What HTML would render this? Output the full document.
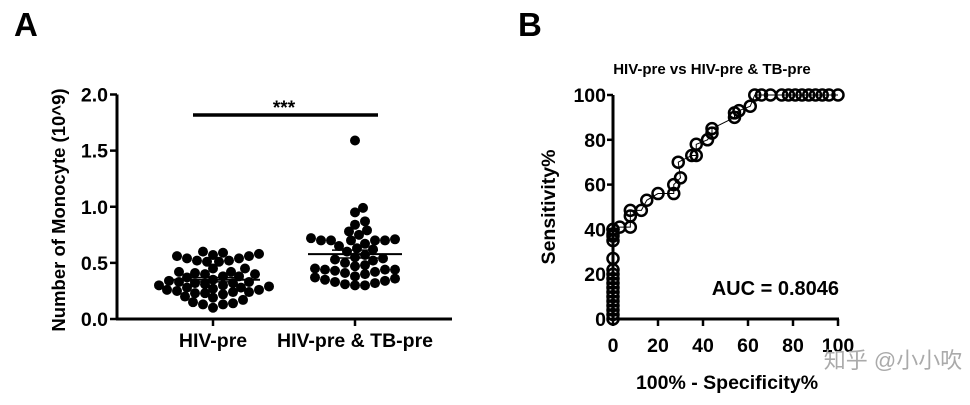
<!DOCTYPE html>
<html><head><meta charset="utf-8">
<style>
html,body{margin:0;padding:0;background:#fff;}
svg{display:block;font-family:"Liberation Sans","Noto Sans CJK SC",sans-serif;font-weight:bold;}
</style></head>
<body>
<svg id="c" width="970" height="405" viewBox="0 0 970 405">
<text x="14" y="36" font-size="33">A</text>
<text x="518" y="36" font-size="33">B</text>
<g id="pa"></g>
<g id="pb"></g>
<text x="893" y="368" font-size="22" fill="#aaa" font-weight="normal" text-anchor="middle">知乎 @小小吹</text>
</svg>
<script>
const groupLabels=["HIV-pre","HIV-pre & TB-pre"];
const group1=[0.59,0.57,0.56,0.54,0.52,0.51,0.51,0.52,0.54,0.56,0.58,0.60,
0.45,0.42,0.40,0.41,0.38,0.40,0.37,0.38,0.42,0.45,
0.35,0.34,0.33,0.32,0.31,0.30,0.29,0.28,0.27,0.26,0.25,0.24,0.23,0.23,0.24,0.26,0.28,0.30,0.32,0.33,
0.22,0.19,0.15,0.13,0.10,0.13,0.14,0.17,0.20];
const group2=[1.59,0.99,0.95,0.87,0.84,0.79,0.78,0.75,
0.72,0.71,0.70,0.70,0.70,0.70,0.70,0.67,0.65,0.63,0.62,0.60,0.57,0.55,0.54,0.53,0.52,0.50,
0.48,0.47,0.45,0.44,0.44,0.44,0.43,0.42,0.40,0.41,0.38,0.37,0.36,0.35,0.33,0.32,0.31,0.30,0.30,0.34];
const yTicksA=[0,0.5,1.0,1.5,2.0];
const rocX=[0,0,0,0,0,0,0,0,0,0,0,0,0,0,0,0,0,0,3,7.7,7.7,7.7,12.6,15,20,27,27,30,29,35,37,37,42,44,44,54,54,56,61,63,66,70,75,78,81,84,87,90,93,96,100];
const rocY=[0,2,4,6,8,10,12,14,16,18,20,22,27,35,37,38,40,40,41,41,46,48.5,48.5,53,56,56,60,63,70,73,73,78,80,83,85,90,92,93,95,100,100,100,100,100,100,100,100,100,100,100,100];
const xTicksB=[0,20,40,60,80,100];
const yTicksB=[0,20,40,60,80,100];

const NS="http://www.w3.org/2000/svg";
function mk(p,t,a,txt){const e=document.createElementNS(NS,t);for(const k in a)e.setAttribute(k,a[k]);if(txt!=null)e.textContent=txt;p.appendChild(e);return e;}
const pa=document.getElementById('pa');
const ax0=117,ay0=319,ay1=94.5;
const yA=v=>ay0-(v/2)*(ay0-ay1);
const cx=[213,355];
let e;
e=mk(pa,'line',{x1:ax0,y1:ay1,x2:ax0,y2:ay0+1,stroke:'#000','stroke-width':3});

e=mk(pa,'line',{x1:ax0-1,y1:ay0,x2:452,y2:ay0,stroke:'#000','stroke-width':3});

yTicksA.forEach(v=>{
 e=mk(pa,'line',{x1:ax0-7,y1:yA(v),x2:ax0,y2:yA(v),stroke:'#000','stroke-width':2.5});
 
 e=mk(pa,'text',{x:ax0-9,y:yA(v)+7,'font-size':19.5,'text-anchor':'end'},v.toFixed(1));
 
});
groupLabels.forEach((l,i)=>{
 e=mk(pa,'line',{x1:cx[i],y1:ay0,x2:cx[i],y2:ay0+7,stroke:'#000','stroke-width':2.5});
 
 e=mk(pa,'text',{x:cx[i],y:347,'font-size':19.5,'text-anchor':'middle'},l);
 
});
e=mk(pa,'text',{x:0,y:0,'font-size':18.5,'text-anchor':'middle',transform:'translate(65,210) rotate(-90)'},'Number of Monocyte (10^9)');

e=mk(pa,'line',{x1:193,y1:115,x2:378,y2:115,stroke:'#000','stroke-width':3.5});

e=mk(pa,'text',{x:284,y:114,'font-size':19,'text-anchor':'middle'},'***');

const R=5,D=8.9;
[group1,group2].forEach((g,gi)=>{
 const placed=[];
 const sorted=g.slice().sort((a,b)=>a-b);
 sorted.forEach(v=>{
  const y=yA(v);let best=null;
  for(let k=0;k<60&&best===null;k++){
   for(const s of (k===0?[0]:[k*2,-k*2])){
    const x=cx[gi]+s;
    if(placed.every(p=>(p[0]-x)**2+(p[1]-y)**2>=D*D)){best=x;break;}
   }
  }
  placed.push([best,y]);
  e=mk(pa,'circle',{cx:best,cy:y,r:R,fill:'#000'});
  
 });
 const m=g.reduce((a,b)=>a+b,0)/g.length;
 const sd=Math.sqrt(g.reduce((a,b)=>a+(b-m)**2,0)/(g.length-1));const se=sd/Math.sqrt(g.length);
 e=mk(pa,'line',{x1:cx[gi]-47,y1:yA(m),x2:cx[gi]+47,y2:yA(m),stroke:'#000','stroke-width':2});
 
 [m-se,m+se].forEach(v=>{e=mk(pa,'line',{x1:cx[gi]-23,y1:yA(v),x2:cx[gi]+23,y2:yA(v),stroke:'#000','stroke-width':1.5});
 });
});
const pb=document.getElementById('pb');
const bx0=613,bx1=838,by0=319,by1=95;
const xB=v=>bx0+v/100*(bx1-bx0), yB=v=>by0-v/100*(by0-by1);
e=mk(pb,'line',{x1:bx0,y1:by1,x2:bx0,y2:by0+1,stroke:'#000','stroke-width':3});

e=mk(pb,'line',{x1:bx0-1,y1:by0,x2:bx1+1,y2:by0,stroke:'#000','stroke-width':3});

yTicksB.forEach(v=>{
 e=mk(pb,'line',{x1:bx0-6,y1:yB(v),x2:bx0,y2:yB(v),stroke:'#000','stroke-width':2.5});
 
 e=mk(pb,'text',{x:bx0-7,y:yB(v)+7,'font-size':19.5,'text-anchor':'end'},v);
 
});
xTicksB.forEach(v=>{
 e=mk(pb,'line',{x1:xB(v),y1:by0,x2:xB(v),y2:by0+7,stroke:'#000','stroke-width':2.5});
 
 e=mk(pb,'text',{x:xB(v),y:352,'font-size':19.5,'text-anchor':'middle'},v);
 
});
e=mk(pb,'text',{x:712,y:74,'font-size':15,'text-anchor':'middle'},'HIV-pre vs HIV-pre & TB-pre');

e=mk(pb,'text',{x:727,y:389,'font-size':19.5,'text-anchor':'middle'},'100% - Specificity%');

e=mk(pb,'text',{x:0,y:0,'font-size':19.5,'text-anchor':'middle',transform:'translate(555,207) rotate(-90)'},'Sensitivity%');

e=mk(pb,'text',{x:839,y:295,'font-size':20,'text-anchor':'end'},'AUC = 0.8046');

e=mk(pb,'polyline',{points:rocX.map((x,i)=>xB(x)+','+yB(rocY[i])).join(' '),fill:'none',stroke:'#000','stroke-width':1});

rocX.forEach((x,i)=>{
 e=mk(pb,'circle',{cx:xB(x),cy:yB(rocY[i]),r:5.5,fill:'none',stroke:'#000','stroke-width':2.5});
 
});
</script>
</body></html>
